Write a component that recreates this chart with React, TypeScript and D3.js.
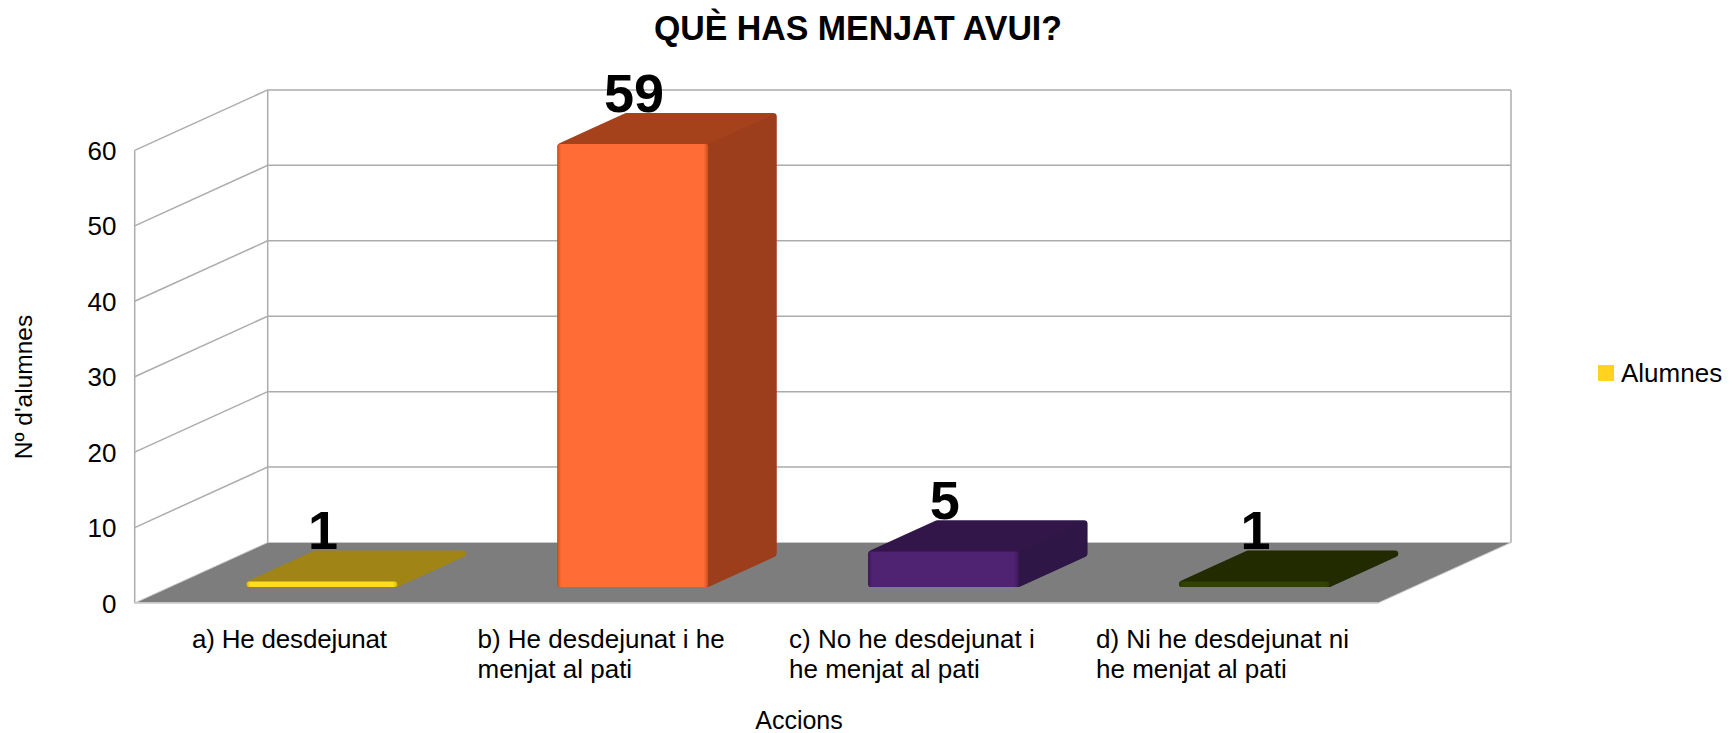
import React from "react";
import * as d3 from "d3";

const title = "QUÈ HAS MENJAT AVUI?";
const categories = ["a) He desdejunat", "b) He desdejunat i he menjat al pati", "c) No he desdejunat i he menjat al pati", "d) Ni he desdejunat ni he menjat al pati"];
const categoryLines = [["a) He desdejunat"], ["b) He desdejunat i he", "menjat al pati"], ["c) No he desdejunat i", "he menjat al pati"], ["d) Ni he desdejunat ni", "he menjat al pati"]];
const values = [1, 59, 5, 1];
const ticks = [0, 10, 20, 30, 40, 50, 60];
const palette = [
  { front: "#ffdd1c", edge: "#d9b312", top: "#a08512", side: "#a08512" },
  { front: "#ff6c35", edge: "#c9501f", top: "#a5431f", side: "#9c3e1e" },
  { front: "#4f2272", edge: "#3a1858", top: "#321748", side: "#2e1546" },
  { front: "#334203", edge: "#2a3603", top: "#212b02", side: "#212b02" },
];

const FONT = "'Liberation Sans', Arial, sans-serif";
const x = d3.scaleLinear().domain([0, 4]).range([134.7, 1378]);
const y = d3.scaleLinear().domain([0, 60]).range([603, 150.4]);
const depthX = d3.scaleLinear().domain([0, 1]).range([0, 133]);
const depthY = d3.scaleLinear().domain([0, 1]).range([0, -60.5]);
const project = (c: number, v: number, d: number): [number, number] => [x(c) + depthX(d), y(v) + depthY(d)];
const poly = (pts: [number, number][]) => (d3.line()(pts) ?? "") + "Z";

function rounded(pts: [number, number][], r: number) {
  const p = d3.path();
  const n = pts.length;
  const mid = (a: number[], b: number[]) => [(a[0] + b[0]) / 2, (a[1] + b[1]) / 2];
  const s = mid(pts[n - 1], pts[0]);
  p.moveTo(s[0], s[1]);
  pts.forEach((q, i) => {
    const nxt = pts[(i + 1) % n];
    const m = mid(q, nxt);
    p.arcTo(q[0], q[1], m[0], m[1], r);
    p.lineTo(m[0], m[1]);
  });
  p.closePath();
  return p.toString();
}

const BAR_OFFSET = 0.2465, BAR_W = 0.485, D0 = 0.265, D1 = 0.78, TOP_DROP = 2.2;
const GRID = "#acacac";

export default function App() {
  return (
    <svg width={1733} height={733} style={{ position: "absolute", left: 0, top: 0, display: "block", background: "#fff" }} fontFamily={FONT}>
      <defs>
        <filter id="soft" x="-5%" y="-5%" width="110%" height="110%">
          <feGaussianBlur stdDeviation="0.6" />
        </filter>
        {palette.map((c, i) => (
          <linearGradient id={`f${i}`} key={i} x1="0" x2="1" y1="0" y2="0">
            <stop offset="0" stopColor={c.edge} />
            <stop offset="0.025" stopColor={c.front} />
            <stop offset="0.97" stopColor={c.front} />
            <stop offset="1" stopColor={c.edge} />
          </linearGradient>
        ))}
      </defs>
      <text x={858} y={39.5} textAnchor="middle" fontSize={35} fontWeight="bold" fill="#000" textLength={408} lengthAdjust="spacingAndGlyphs">{title}</text>

      <path d={poly([project(0, 0, 0), project(4, 0, 0), project(4, 0, 1), project(0, 0, 1)])} fill="#7d7d7d" stroke="#c8c8c8" strokeWidth={1} />
      {ticks.map((t) => (
        <polyline key={t} points={[project(0, t, 0), project(0, t, 1), project(4, t, 1)].map((p) => p.join(",")).join(" ")} fill="none" stroke={GRID} strokeWidth={t === 0 ? 0 : 1.5} />
      ))}
      {[0, 1].map((d) => (
        <line key={d} x1={project(0, 0, d)[0]} y1={project(0, 0, d)[1]} x2={project(0, 60, d)[0]} y2={project(0, 60, d)[1]} stroke={GRID} strokeWidth={1.5} />
      ))}
      <line x1={project(4, 0, 1)[0]} y1={project(4, 0, 1)[1]} x2={project(4, 60, 1)[0]} y2={project(4, 60, 1)[1]} stroke={GRID} strokeWidth={1.5} />
      <line x1={project(0, 0, 0)[0]} y1={project(0, 0, 0)[1]} x2={project(4, 0, 0)[0]} y2={project(4, 0, 0)[1]} stroke="#d0d0d0" strokeWidth={1.5} />

      {values.map((v, i) => {
        const L = i + BAR_OFFSET, R = L + BAR_W;
        const col = palette[i];
        const rad = 3.5;
        const top = (c: number, d: number): [number, number] => { const p = project(c, v, d); return [p[0], p[1] + TOP_DROP]; };
        const outline = rounded([project(L, 0, D0), project(R, 0, D0), project(R, 0, D1), top(R, D1), top(L, D1), top(L, D0)], rad);
        const sideFace = poly([project(R, 0, D0), project(R, 0, D1), top(R, D1), top(R, D0)]);
        const frontFace = rounded([project(L, 0, D0), project(R, 0, D0), top(R, D0), top(L, D0)], 2.5);
        return (
          <g key={categories[i]} filter="url(#soft)">
            <clipPath id={`c${i}`}><path d={outline} /></clipPath>
            <path d={outline} fill={col.top} />
            <path d={sideFace} fill={col.side} clipPath={`url(#c${i})`} />
            <path d={frontFace} fill={`url(#f${i})`} />
          </g>
        );
      })}
      {values.map((v, i) => {
        const mid = i + BAR_OFFSET + BAR_W / 2;
        return (
          <text key={i} x={project(mid, v, D0)[0] + 1.2} y={project(mid, v, 0.765)[1] + TOP_DROP - 2} textAnchor="middle" fontSize={54} fontWeight="bold" fill="#000">{v}</text>
        );
      })}

      {ticks.map((t) => (
        <text key={t} x={116.5} y={y(t) + 9.5} textAnchor="end" fontSize={26} fill="#000">{t}</text>
      ))}
      {categoryLines.map((ls, i) => (
        <g key={i}>
          {ls.map((l, j) => (
            <text key={j} x={[192, 477.5, 789, 1096][i]} y={648 + j * 30} fontSize={26} fill="#000" textLength={i === 0 ? 195 : undefined}>{l}</text>
          ))}
        </g>
      ))}
      <text x={799} y={729} textAnchor="middle" fontSize={25} fill="#000">Accions</text>
      <text transform="translate(32,387) rotate(-90)" textAnchor="middle" fontSize={24.5} fill="#000">Nº d'alumnes</text>
      <rect x={1598} y={365} width={16} height={16} fill="#ffd320" />
      <text x={1621} y={382} fontSize={26} fill="#000">Alumnes</text>
    </svg>
  );
}
